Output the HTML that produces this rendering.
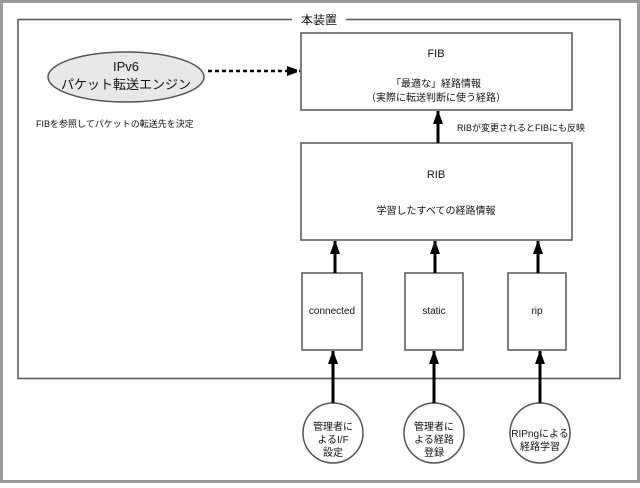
<!DOCTYPE html>
<html><head><meta charset="utf-8"><style>
body{margin:0;background:#fff}
text{font-family:"Liberation Sans","Noto Sans CJK JP",sans-serif;fill:#111}
</style></head><body>
<svg width="640" height="483" viewBox="0 0 640 483" xmlns="http://www.w3.org/2000/svg">
<defs><marker id="a" markerWidth="8" markerHeight="8" refX="7" refY="4" orient="auto" markerUnits="userSpaceOnUse"><path d="M0,0 L8,4 L0,8z" fill="#000"/></marker>
<marker id="b" markerWidth="10" markerHeight="14" refX="13" refY="5" orient="auto" markerUnits="userSpaceOnUse"><path d="M0,0 L14,5 L0,10z" fill="#000"/></marker></defs>
<rect x="1.5" y="1.5" width="637" height="480" fill="#fff" stroke="#999" stroke-width="3"/>
<rect x="18" y="19.5" width="602" height="359" fill="none" stroke="#555" stroke-width="1.5"/>
<rect x="292" y="12" width="54" height="14" fill="#fff"/>
<text x="319" y="24" font-size="12" text-anchor="middle">本装置</text>
<rect x="301" y="33" width="271" height="77" fill="#fff" stroke="#555" stroke-width="1.5"/>
<text x="436" y="57" font-size="11" text-anchor="middle">FIB</text>
<text x="436" y="87" font-size="10" text-anchor="middle">「最適な」経路情報</text>
<text x="436" y="101" font-size="10" text-anchor="middle">（実際に転送判断に使う経路）</text>
<rect x="301" y="143" width="271" height="97" fill="#fff" stroke="#555" stroke-width="1.5"/>
<text x="436" y="178" font-size="11" text-anchor="middle">RIB</text>
<text x="436" y="214" font-size="10" text-anchor="middle">学習したすべての経路情報</text>
<ellipse cx="126" cy="77" rx="78" ry="25" fill="#e8e8e8" stroke="#555" stroke-width="1.5"/>
<text x="126" y="71" font-size="13" text-anchor="middle">IPv6</text>
<text x="126" y="89" font-size="13" text-anchor="middle">パケット転送エンジン</text>
<line x1="208" y1="71" x2="300" y2="71" stroke="#000" stroke-width="2.5" stroke-dasharray="4,3" marker-end="url(#b)"/>
<text x="36" y="127" font-size="9">FIBを参照してパケットの転送先を決定</text>
<line x1="438" y1="143" x2="438" y2="111" stroke="#000" stroke-width="3" marker-end="url(#b)"/>
<text x="457" y="131" font-size="9">RIBが変更されるとFIBにも反映</text>
<g stroke="#555" stroke-width="1.5" fill="#fff">
<rect x="302" y="273" width="60" height="77"/><rect x="405" y="273" width="58" height="77"/><rect x="508" y="273" width="58" height="77"/>
<circle cx="333" cy="433" r="30"/><circle cx="434" cy="433" r="30"/><circle cx="540" cy="433" r="30"/>
</g>
<g stroke="#000" stroke-width="3">
<line x1="335" y1="273" x2="335" y2="241" marker-end="url(#b)"/>
<line x1="435" y1="273" x2="435" y2="241" marker-end="url(#b)"/>
<line x1="538" y1="273" x2="538" y2="241" marker-end="url(#b)"/>
<line x1="333" y1="403" x2="333" y2="351" marker-end="url(#b)"/>
<line x1="434" y1="403" x2="434" y2="351" marker-end="url(#b)"/>
<line x1="540" y1="403" x2="540" y2="351" marker-end="url(#b)"/>
</g>
<text x="332" y="314" font-size="10" text-anchor="middle">connected</text>
<text x="434" y="314" font-size="10" text-anchor="middle">static</text>
<text x="537" y="314" font-size="10" text-anchor="middle">rip</text>
<g font-size="10">
<text x="333" y="430" text-anchor="middle">管理者に</text>
<text x="333" y="443" text-anchor="middle">よるI/F</text>
<text x="333" y="456" text-anchor="middle">設定</text>
<text x="434" y="430" text-anchor="middle">管理者に</text>
<text x="434" y="443" text-anchor="middle">よる経路</text>
<text x="434" y="456" text-anchor="middle">登録</text>
<text x="540" y="437" text-anchor="middle">RIPngによる</text>
<text x="540" y="450" text-anchor="middle">経路学習</text>
</g>
</svg>
</body></html>
